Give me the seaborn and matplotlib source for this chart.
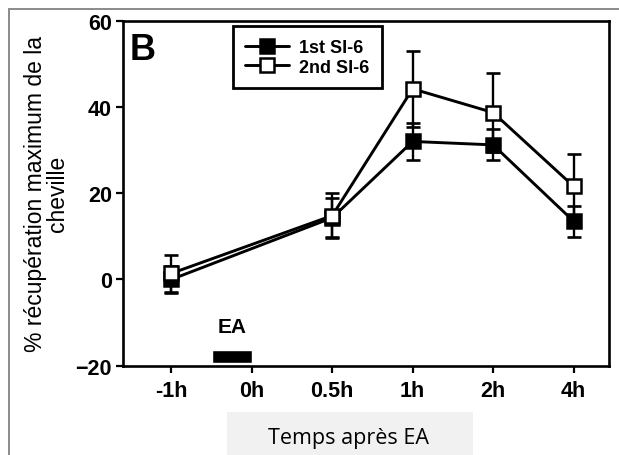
import matplotlib
matplotlib.use("Agg")
import matplotlib.pyplot as plt
from matplotlib.lines import Line2D
from matplotlib.patches import Rectangle
import seaborn as sns
import pandas as pd

# ---- data ----
tick_labels = ["-1h", "0h", "0.5h", "1h", "2h", "4h"]
time_points = ["-1h", "0.5h", "1h", "2h", "4h"]
series_names = ["1st SI-6", "2nd SI-6"]
first_vals = [0.0, 14.3, 32.0, 31.2, 13.5]
first_err = [3.2, 4.5, 4.3, 3.6, 3.6]
second_vals = [1.4, 14.8, 44.2, 38.7, 21.6]
second_err = [4.3, 5.2, 8.8, 9.1, 7.6]
ea_start, ea_end = "-1h", "0h"   # EA period bar spans half a slot before 0h
ea_bar_low, ea_bar_high = -19.3, -16.3
y_ticks = [-20, 0, 20, 40, 60]

sns.set_style("ticks")
plt.rcParams["font.family"] = ["Liberation Sans", "DejaVu Sans"]
for key in ["text.color", "axes.labelcolor", "xtick.color", "ytick.color",
            "axes.edgecolor"]:
    plt.rcParams[key] = "black"

fig = plt.figure(figsize=(6.19, 4.56), dpi=100)
W, H = 619, 456
ax = fig.add_axes([123 / W, 1 - 366.7 / H, (609 - 123) / W, 345 / H])

pos = [tick_labels.index(t) for t in time_points]
df = pd.DataFrame({
    "pos": pos * 2,
    "val": first_vals + second_vals,
    "err": first_err + second_err,
    "series": [series_names[0]] * len(pos) + [series_names[1]] * len(pos),
})

styles = {
    series_names[0]: dict(face="black", z=2),
    series_names[1]: dict(face="white", z=3),
}
for name in series_names:
    sub = df[df["series"] == name]
    st = styles[name]
    ax.errorbar(sub["pos"], sub["val"], yerr=sub["err"], fmt="none",
                ecolor="black", elinewidth=1.7, capsize=4.8, capthick=1.9,
                zorder=st["z"] - 0.1)
    sns.lineplot(data=sub, x="pos", y="val", ax=ax, color="black",
                 linewidth=2.1, marker="s", markersize=10.5,
                 markerfacecolor=st["face"], markeredgecolor="black",
                 markeredgewidth=1.8, label=name, zorder=st["z"])

# EA bar
x0 = tick_labels.index(ea_end) - 0.5
ax.bar(x0 + 0.25, ea_bar_high - ea_bar_low, width=0.5, bottom=ea_bar_low,
       color="black", zorder=2)
ax.text(x0 + 0.25, -11, "EA", ha="center", va="center",
        fontsize=15, fontweight="bold")

# "B" panel label
ax.text(0.014, 0.967, "B", transform=ax.transAxes, ha="left", va="top",
        fontsize=26, fontweight="bold")

ax.set_xlim(-0.6, 5.44)
ax.set_ylim(-20, 60)
ax.set_xticks(range(len(tick_labels)))
ax.set_xticklabels(tick_labels)
ax.set_yticks(y_ticks)
for lab in ax.get_xticklabels() + ax.get_yticklabels():
    lab.set_fontweight("bold")
    lab.set_fontsize(15.5)
ax.tick_params(axis="both", direction="out", length=5, width=1.6, color="black")
ax.tick_params(axis="x", pad=5)
ax.tick_params(axis="y", pad=3)
for sp in ax.spines.values():
    sp.set_visible(True)
    sp.set_linewidth(1.9)
    sp.set_color("black")

ax.set_ylabel("% récupération maximum de la\ncheville", fontsize=16.5,
              linespacing=0.95)
ax.yaxis.label.set_va("center")
ax.yaxis.set_label_coords((46.5 - 123) / 486, 0.5)

ax.set_xlabel("Temps après EA", fontsize=15.5,
              family=["Open Sans", "DejaVu Sans"])
ax.xaxis.label.set_va("baseline")
ax.xaxis.set_label_coords((348 - 123) / 486, (366.7 - 444) / 345)

leg = ax.legend(loc="upper left", bbox_to_anchor=(0.226, 0.984),
                borderaxespad=0, frameon=True, fancybox=False,
                prop={"weight": "bold", "size": 13}, handlelength=2.4,
                handletextpad=0.55, borderpad=0.7, labelspacing=0.15)
leg.get_frame().set_edgecolor("black")
leg.get_frame().set_linewidth(2)
leg.get_frame().set_alpha(1)

# gray box behind x label and thin page border
fig.add_artist(Rectangle((227 / W, 0), (473 - 227) / W, (456 - 413) / H,
                         transform=fig.transFigure, facecolor="#f1f1f1",
                         edgecolor="none", zorder=-1))
fig.add_artist(Line2D([9 / W, 1], [1 - 10 / H] * 2, transform=fig.transFigure,
                      color="#8a8a8a", lw=1.4))
fig.add_artist(Line2D([9 / W] * 2, [0, 1 - 10 / H], transform=fig.transFigure,
                      color="#8a8a8a", lw=1.4))

fig.savefig("out.png", dpi=100)
